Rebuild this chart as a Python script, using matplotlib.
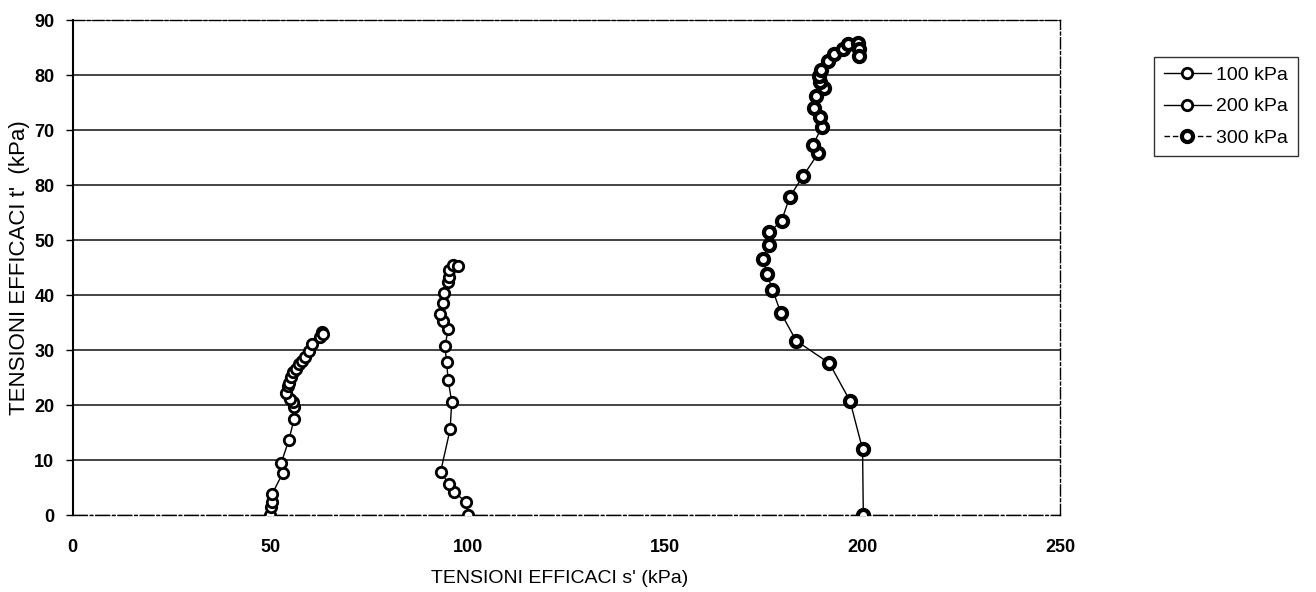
import matplotlib
matplotlib.use("Agg")
import matplotlib.pyplot as plt
from matplotlib.lines import Line2D

plt.rcParams['font.family'] = ['Liberation Sans', 'DejaVu Sans']

# ---- data ----
s_100 = [50.0, 50.2, 50.4, 50.6, 53.2, 52.8, 54.8, 56.1, 56.1, 55.9, 55.1, 54.1, 54.6, 54.8,
         55.2, 55.9, 56.6, 57.4, 58.0, 58.9, 59.9, 60.6, 62.7, 63.1, 63.4]
t_100 = [0.0, 1.5, 2.4, 3.9, 7.6, 9.4, 13.7, 17.5, 19.6, 20.5, 21.1, 22.2, 23.4, 24.1,
         25.1, 26.0, 26.6, 27.4, 28.1, 28.8, 29.8, 31.1, 32.3, 33.2, 33.0]

s_200 = [100.2, 99.6, 96.7, 95.3, 93.2, 95.6, 96.0, 95.1, 94.7, 94.3, 95.1, 93.9, 93.0,
         93.7, 94.1, 95.1, 95.4, 95.4, 96.4, 97.7]
t_200 = [0.0, 2.4, 4.1, 5.6, 7.9, 15.6, 20.6, 24.5, 27.8, 30.7, 33.8, 35.3, 36.6,
         38.6, 40.3, 42.4, 43.3, 44.6, 45.5, 45.2]

s_300 = [200.2, 200.0, 196.8, 191.6, 183.2, 179.3, 177.2, 175.8, 174.7, 176.4, 176.4, 179.5,
         181.6, 185.0, 188.8, 187.5, 189.7, 189.2, 187.8, 188.2, 190.3, 189.2, 189.1, 189.4,
         191.3, 192.9, 195.1, 196.4, 198.8, 199.2, 199.2]
t_300 = [0.0, 12.0, 20.8, 27.6, 31.7, 36.8, 41.0, 43.8, 46.6, 49.1, 51.4, 53.5,
         57.9, 61.7, 65.8, 67.3, 70.6, 72.4, 74.1, 76.2, 77.7, 78.8, 79.9, 81.0,
         82.6, 83.8, 84.7, 85.6, 85.8, 84.7, 83.5]

series_labels = ['100 kPa', '200 kPa', '300 kPa']
x_ticks = [0, 50, 100, 150, 200, 250]
y_ticks = [0, 10, 20, 30, 40, 50, 60, 70, 80, 90]
y_tick_labels = ['0', '10', '20', '30', '40', '50', '80', '70', '80', '90']
x_label = "TENSIONI EFFICACI s' (kPa)"
y_label = "TENSIONI EFFICACI t'  (kPa)"

# ---- figure ----
fig = plt.figure(figsize=(13.16, 5.92), dpi=100)
ax = fig.add_axes([0.0551, 0.130, 0.7504, 0.836])

ax.set_xlim(0, 250)
ax.set_ylim(0, 90)

for yv in y_ticks[1:]:
    ax.axhline(yv, color='#111111', lw=1.1, zorder=1)
ax.axhline(0, color='#111111', lw=1.0, ls=(0, (10, 2, 2, 2)), zorder=1)

open_style = dict(color='black', lw=1.0, marker='o', markersize=7.5,
                  markerfacecolor='white', markeredgecolor='black', markeredgewidth=2.0, zorder=3)
heavy_style = dict(color='black', lw=1.0, marker='o', markersize=8,
                   markerfacecolor='white', markeredgecolor='black', markeredgewidth=3.0, zorder=3)

ax.plot(s_100, t_100, **open_style)
ax.plot(s_200, t_200, **open_style)
ax.plot(s_300, t_300, **heavy_style)

ax.set_xticks(x_ticks)
ax.set_yticks(y_ticks)
ax.set_yticklabels(y_tick_labels)
ax.tick_params(axis='x', length=0, pad=17, labelsize=13)
ax.tick_params(axis='y', length=5, width=1, direction='out', pad=8, labelsize=13)
for lab in ax.get_xticklabels() + ax.get_yticklabels():
    lab.set_fontweight('bold')

for side in ['top', 'right']:
    ax.spines[side].set_linestyle((0, (8, 2, 2, 2)))
    ax.spines[side].set_linewidth(1.0)
ax.spines['left'].set_linewidth(1.5)
ax.spines['bottom'].set_linewidth(1.0)
ax.spines['bottom'].set_linestyle((0, (10, 2, 2, 2)))

ax.set_xlabel(x_label, fontsize=14)
ax.set_ylabel(y_label, fontsize=16)
ax.xaxis.set_label_coords(0.493, -0.112)
ax.yaxis.set_label_coords(-0.043, 0.5)

handles = [
    Line2D([], [], color='black', lw=1.0, marker='o', markersize=7.5, markerfacecolor='white',
           markeredgecolor='black', markeredgewidth=2.0),
    Line2D([], [], color='black', lw=1.0, marker='o', markersize=7.5, markerfacecolor='white',
           markeredgecolor='black', markeredgewidth=2.0),
    Line2D([], [], color='black', lw=1.0, ls=(0, (4, 2)), marker='o', markersize=8,
           markerfacecolor='white', markeredgecolor='black', markeredgewidth=3.0),
]
leg = fig.legend(handles, series_labels, loc='upper left', bbox_to_anchor=(0.877, 0.904),
                 fontsize=14, frameon=True, fancybox=False, edgecolor='black',
                 handlelength=2.4, handletextpad=0.3, borderpad=0.5, labelspacing=0.7,
                 borderaxespad=0)
leg.get_frame().set_linewidth(1.0)

fig.savefig('out.png', dpi=100)
